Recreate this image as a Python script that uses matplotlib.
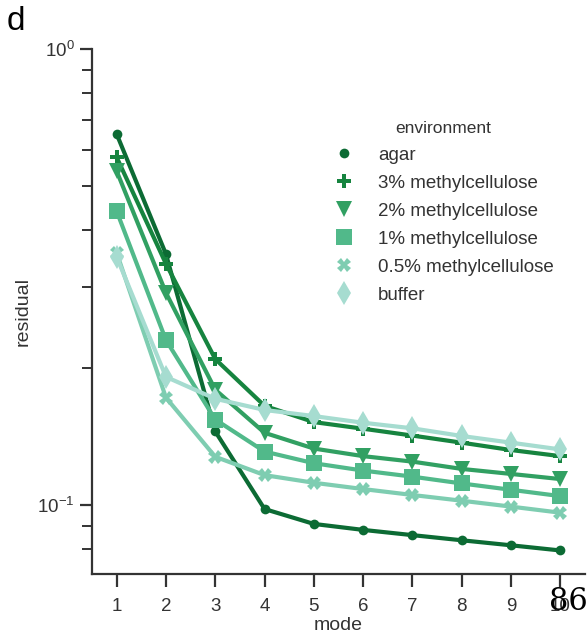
import matplotlib
matplotlib.use("Agg")
import matplotlib.pyplot as plt
from matplotlib.ticker import LogLocator, NullFormatter

plt.rcParams['font.family'] = ['Liberation Sans', 'DejaVu Sans']
plt.rcParams['mathtext.fontset'] = 'custom'
plt.rcParams['mathtext.rm'] = 'Liberation Sans'
plt.rcParams['mathtext.it'] = 'Liberation Sans'
plt.rcParams['mathtext.bf'] = 'Liberation Sans'

modes = [1, 2, 3, 4, 5, 6, 7, 8, 9, 10]

agar = [0.651, 0.355, 0.145, 0.098, 0.0909, 0.0882, 0.0859, 0.0837, 0.0816, 0.0795]
mc3 = [0.579, 0.338, 0.209, 0.165, 0.152, 0.147, 0.142, 0.137, 0.132, 0.128]
mc2 = [0.540, 0.292, 0.179, 0.144, 0.133, 0.128, 0.1245, 0.120, 0.117, 0.114]
mc1 = [0.441, 0.230, 0.154, 0.131, 0.1235, 0.119, 0.1154, 0.1115, 0.108, 0.1046]
mc05 = [0.3575, 0.172, 0.1276, 0.1163, 0.1119, 0.1084, 0.1052, 0.1022, 0.0992, 0.0962]
buffer = [0.350, 0.191, 0.171, 0.1616, 0.1567, 0.1515, 0.1473, 0.1417, 0.137, 0.1324]

labels = ["agar", "3% methylcellulose", "2% methylcellulose",
          "1% methylcellulose", "0.5% methylcellulose", "buffer"]
series = [agar, mc3, mc2, mc1, mc05, buffer]
colors = ["#0c6b34", "#16843f", "#31a062", "#51b98a", "#7ecdb1", "#a6dcd0"]
markers = ["o", "P", "v", "s", "X", "d"]
msizes = [7, 9.5, 11, 11, 9.5, 12]

fig = plt.figure(figsize=(5.87, 6.36), dpi=100)
ax = fig.add_axes([0.1567, 0.0975, 0.84, 0.8255])

for y, lab, c, m, ms in zip(series, labels, colors, markers, msizes):
    ax.plot(modes, y, color=c, marker=m, markersize=ms, linewidth=3,
            markeredgewidth=0, label=lab)

ax.set_yscale("log")
ax.set_ylim(0.0706, 1.0)
ax.set_xlim(0.5, 10.5)
ax.set_xticks(modes)
ax.yaxis.set_major_locator(LogLocator(base=10, numticks=5))
ax.yaxis.set_minor_locator(LogLocator(base=10, subs=range(2, 10), numticks=10))
ax.yaxis.set_minor_formatter(NullFormatter())

for s in ["top", "right"]:
    ax.spines[s].set_visible(False)
for s in ["left", "bottom"]:
    ax.spines[s].set_linewidth(1.6)
    ax.spines[s].set_color("#333333")

ax.tick_params(axis="both", which="major", length=9, width=1.6, color="#333333",
               labelsize=13.5, labelcolor="#333333", direction="out")
ax.tick_params(axis="y", which="minor", length=7, width=1.4, color="#333333")
ax.tick_params(axis="x", pad=8)

ax.set_xlabel("mode", fontsize=14, color="#333333", labelpad=2)
ax.set_ylabel("residual", fontsize=14, color="#333333", labelpad=4)

leg = ax.legend(title="environment", loc="upper left", bbox_to_anchor=(0.455, 0.895),
                frameon=False, fontsize=13.5, title_fontsize=12.5,
                handlelength=1.2, handletextpad=1.2, labelspacing=0.58)
for t in leg.get_texts():
    t.set_color("#333333")
leg.get_title().set_color("#333333")
for h in leg.legend_handles:
    h.set_linestyle("none")

fig.text(0.012, 0.99, "d", fontsize=24, va="top", ha="left")
fig.text(0.968, 0.055, "86", fontsize=22, family="DejaVu Serif", ha="center", va="center")

fig.savefig("out.png", dpi=100)
